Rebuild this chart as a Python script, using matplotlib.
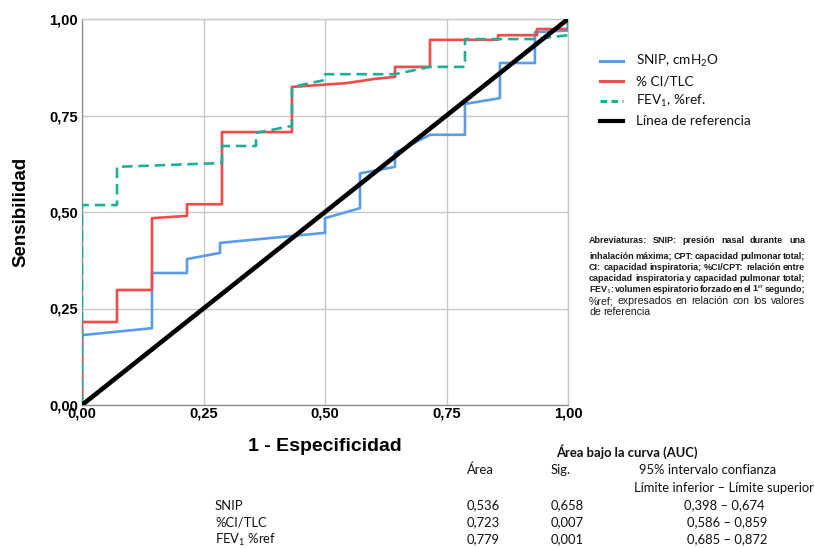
import matplotlib
matplotlib.use("Agg")
import matplotlib.pyplot as plt
from matplotlib.lines import Line2D

plt.rcParams["mathtext.fontset"] = "custom"
plt.rcParams["mathtext.rm"] = "Lato"
plt.rcParams["mathtext.it"] = "Lato:italic"
plt.rcParams["mathtext.bf"] = "Lato:bold"

BLUE = "#5A9BEA"; RED = "#F04B4B"; TEAL = "#1DB097"; GRID = "#C8C8C8"
W, H = 814, 548

# curvas ROC (1-especificidad, sensibilidad)
snip_x = [0, 0, 0.144, 0.144, 0.216, 0.216, 0.284, 0.284, 0.5, 0.5, 0.572, 0.572,
          0.644, 0.644, 0.716, 0.788, 0.788, 0.86, 0.86, 0.932, 0.932, 1.0, 1.0]
snip_y = [0, 0.181, 0.199, 0.342, 0.342, 0.378, 0.394, 0.42, 0.446, 0.484, 0.51, 0.60,
          0.617, 0.653, 0.70, 0.70, 0.78, 0.795, 0.886, 0.886, 0.966, 0.97, 1.0]
ci_x = [0, 0, 0.072, 0.072, 0.144, 0.144, 0.216, 0.216, 0.288, 0.288, 0.432, 0.432,
        0.545, 0.603, 0.644, 0.644, 0.716, 0.716, 0.856, 0.856, 0.936, 0.936, 1.0, 1.0]
ci_y = [0, 0.215, 0.215, 0.298, 0.298, 0.484, 0.49, 0.52, 0.52, 0.707, 0.707, 0.824,
        0.834, 0.845, 0.85, 0.876, 0.876, 0.946, 0.946, 0.958, 0.958, 0.974, 0.974, 1.0]
fev_x = [0, 0, 0.072, 0.072, 0.288, 0.288, 0.358, 0.358, 0.432, 0.432, 0.5, 0.5,
         0.644, 0.716, 0.788, 0.788, 0.93, 1.0, 1.0]
fev_y = [0, 0.518, 0.518, 0.617, 0.627, 0.671, 0.671, 0.705, 0.723, 0.824, 0.842, 0.857,
         0.857, 0.876, 0.876, 0.948, 0.948, 0.958, 1.0]
ref_x = [0, 1]
ref_y = [0, 1]

ticks = [0, 0.25, 0.5, 0.75, 1.0]
tick_labels = ["0,00", "0,25", "0,50", "0,75", "1,00"]

legend_labels = ["SNIP, cmH$_2$O", "% CI/TLC", "FEV$_1$, %ref.", "Línea de referencia"]

abbrev_small = [
    "Abreviaturas: SNIP: presión nasal durante una",
    "inhalación máxima; CPT: capacidad pulmonar total;",
    "CI: capacidad inspiratoria; %CI/CPT: relación entre",
    "capacidad inspiratoria y capacidad pulmonar total;",
    "FEV$_1$: volumen espiratorio forzado en el 1$^{er}$ segundo;",
]
abbrev_big = [
    "%ref; expresados en relación con los valores",
    "de referencia",
]

auc_rows = ["SNIP", "%CI/TLC", "FEV$_1$ %ref"]
auc_area = ["0,536", "0,723", "0,779"]
auc_sig = ["0,658", "0,007", "0,001"]
auc_ci = ["0,398 – 0,674", "0,586 – 0,859", "0,685 – 0,872"]

fig = plt.figure(figsize=(W/100, H/100), dpi=100)
ax = fig.add_axes([82/W, 1-405/H, 486/W, 386/H])

ax.plot(snip_x, snip_y, color=BLUE, lw=1.9, zorder=3)
ax.plot(ci_x, ci_y, color=RED, lw=1.9, zorder=3)
ax.plot(fev_x, fev_y, color=TEAL, lw=1.9, ls=(0, (4, 2.2)), zorder=4)
ax.plot(ref_x, ref_y, color="black", lw=3.3, zorder=5, solid_capstyle="butt")

ax.set_xlim(0, 1); ax.set_ylim(0, 1)
ax.set_xticks(ticks); ax.set_yticks(ticks)
ax.set_xticklabels(tick_labels); ax.set_yticklabels(tick_labels)
ax.tick_params(length=0, labelsize=10.5)
ax.tick_params(axis="x", pad=1)
ax.tick_params(axis="y", pad=3)
for lab in ax.get_xticklabels() + ax.get_yticklabels():
    lab.set_fontweight("bold"); lab.set_family("Liberation Sans")
ax.grid(color=GRID, lw=1.0, zorder=0)
for s in ax.spines.values():
    s.set_color(GRID); s.set_linewidth(1.0)
ax.spines["left"].set_color("#909090")
ax.spines["bottom"].set_color("#909090")

ax.set_xlabel("1 - Especificidad", fontsize=14, fontweight="bold", family="Liberation Sans", labelpad=13)
ax.set_ylabel("Sensibilidad", fontsize=13.5, fontweight="bold", family="Liberation Sans", labelpad=14)

# leyenda (dibujada a mano)
handles = [dict(color=BLUE, lw=2.2), dict(color=RED, lw=2.2),
           dict(color=TEAL, lw=2.2, ls=(0, (2.2, 1.4))), dict(color="black", lw=3.0)]
for i, (h, lab) in enumerate(zip(handles, legend_labels)):
    yy = 1 - (61 + 20*i)/H
    fig.add_artist(Line2D([600/W, 623/W], [yy, yy], transform=fig.transFigure, **h))
    fig.text(636/W, yy - 4/H, lab, family="Lato", fontsize=9.8, va="baseline", color="#111111")

# abreviaturas, texto justificado
renderer = fig.canvas.get_renderer()

def justified(line, x0, x1, y, justify=True, **kw):
    words = line.split(" ")
    ts = [fig.text(x0/W, y, w, va="baseline", **kw) for w in words]
    widths = [t.get_window_extent(renderer).width for t in ts]
    if justify and len(ts) > 1:
        gap = (x1 - x0 - sum(widths)) / (len(ts) - 1)
    else:
        gap = 0.28 * kw["fontsize"] * 100 / 72
    x = x0
    for t, w in zip(ts, widths):
        t.set_x(x/W); x += w + gap

ab_y = [243, 259, 270, 281, 292, 304, 315]
lines = abbrev_small + abbrev_big
for i, ln in enumerate(lines):
    big = i >= len(abbrev_small)
    kw = dict(family="Liberation Sans", color="#1A1A1A",
              fontsize=7.6 if big else 6.5, fontweight="normal" if big else "bold")
    justified(ln, 589, 805, 1 - ab_y[i]/H, justify=(i < len(lines) - 1), **kw)

# tabla AUC
tf = dict(family="Lato", fontsize=9.4, va="baseline", color="#111111")
B = 3.5  # desplazamiento centro -> linea base (px)
fig.text(627/W, 1-(453+B)/H, "Área bajo la curva (AUC)", ha="center", fontweight="bold", **tf)
fig.text(467/W, 1-(471+B)/H, "Área", ha="left", **tf)
fig.text(551/W, 1-(471+B)/H, "Sig.", ha="left", **tf)
fig.text(708/W, 1-(471+B)/H, "95% intervalo confianza", ha="center", **tf)
fig.text(724/W, 1-(489+B)/H, "Límite inferior – Límite superior", ha="center", **tf)
for i in range(3):
    yy = 1 - (506 + 17*i + B)/H
    fig.text(215/W, yy, auc_rows[i], ha="left", **tf)
    fig.text(467/W, yy, auc_area[i], ha="left", **tf)
    fig.text(551/W, yy, auc_sig[i], ha="left", **tf)
    fig.text((724 + 3*(i > 0))/W, yy, auc_ci[i], ha="center", **tf)

fig.savefig("out.png", dpi=100, facecolor="white")
